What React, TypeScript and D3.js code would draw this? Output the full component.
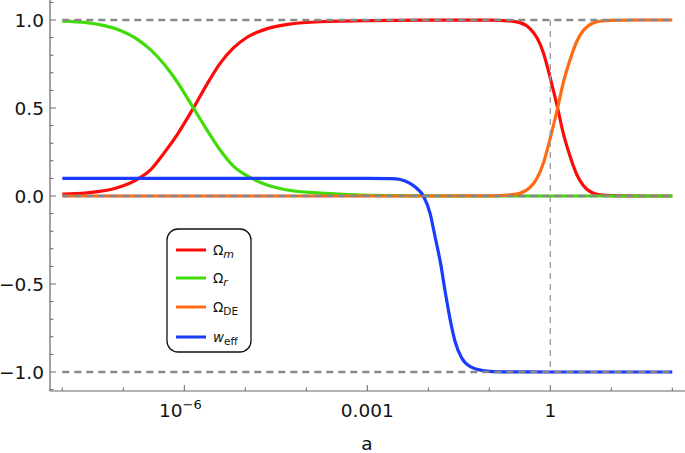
import React from "react";
import * as d3 from "d3";

// log10(a) sample positions and values
const uM = [-8.0, -7.6, -7.1, -6.77, -6.55, -6.33, -6.11, -5.85, -5.62, -5.41, -5.19, -4.97, -4.64, -4.31, -3.77, -3.0, -2.0, -1.0, -0.7, -0.5, -0.33, -0.22, -0.11, 0.0, 0.12, 0.21, 0.32, 0.43, 0.54, 0.68, 0.81, 1.0, 1.5, 2.0];
const omegaM = [0.011, 0.018, 0.047, 0.095, 0.15, 0.245, 0.352, 0.5, 0.64, 0.755, 0.843, 0.902, 0.951, 0.975, 0.99, 0.997, 0.999, 0.999, 0.995, 0.985, 0.95, 0.9, 0.81, 0.67, 0.5, 0.36, 0.23, 0.125, 0.06, 0.02, 0.007, 0.002, 0.0, 0.0];

const uR = [-8.0, -7.6, -7.1, -6.77, -6.55, -6.33, -6.11, -5.85, -5.62, -5.41, -5.19, -4.89, -4.64, -4.31, -3.77, -3.0, -2.0, -1.0, 0.0, 1.0, 2.0];
const omegaR = [0.994, 0.985, 0.947, 0.89, 0.83, 0.748, 0.645, 0.5, 0.37, 0.26, 0.168, 0.1, 0.062, 0.034, 0.016, 0.004, 0.001, 0.0, 0.0, 0.0, 0.0];

const uDE = [-8.0, -4.0, -2.0, -1.0, -0.7, -0.5, -0.33, -0.22, -0.11, 0.0, 0.12, 0.21, 0.32, 0.43, 0.54, 0.68, 0.81, 1.0, 1.5, 2.0];
const omegaDE = [0.0, 0.0, 0.0, 0.001, 0.005, 0.015, 0.05, 0.1, 0.19, 0.33, 0.5, 0.64, 0.77, 0.875, 0.94, 0.98, 0.993, 0.998, 1.0, 1.0];

const uW = [-8.0, -5.0, -3.0, -2.6, -2.46, -2.3, -2.19, -2.08, -1.97, -1.89, -1.8, -1.72, -1.64, -1.56, -1.45, -1.31, -1.1, -0.8, 0.0, 1.0, 2.0];
const wEff = [0.1, 0.1, 0.1, 0.099, 0.094, 0.072, 0.044, 0.0, -0.1, -0.23, -0.38, -0.55, -0.705, -0.828, -0.922, -0.97, -0.992, -0.999, -1.0, -1.0, -1.0];

const yMajorTicks = [-1.0, -0.5, 0.0, 0.5, 1.0];
const yMinorTicks = [-1.1, -0.9, -0.8, -0.7, -0.6, -0.4, -0.3, -0.2, -0.1, 0.1, 0.2, 0.3, 0.4, 0.6, 0.7, 0.8, 0.9, 1.1];
const xMajorExp = [-6, -3, 0];
const xMajorLabels = ["10^-6", "0.001", "1"];
const xMinorExp = [-8, -7, -5, -4, -2, -1, 1, 2];
const refLinesY = [1, 0, -1];

const seriesNames = ["m", "r", "DE", "eff"];
const colors = ["#ff0a0a", "#3fdc0a", "#ff6a14", "#1a3cff"];

export default function App() {
  const W = 685, H = 453;
  const x = d3.scaleLog().domain([1e-6, 1]).range([184.3, 550.3]);
  const y = d3.scaleLinear().domain([-1, 1]).range([372, 20]);
  const axX0 = 50, axX1 = 685;
  const axYTop = y(1.1136), axYBot = y(-1.108);
  const font = "DejaVu Sans, sans-serif";

  const mk = (us: number[], vs: number[]) =>
    d3.line<number>()
      .x((_, i) => x(Math.pow(10, us[i])))
      .y((v) => y(v))
      .curve(d3.curveMonotoneX)(vs) as string;

  const paths = [mk(uM, omegaM), mk(uR, omegaR), mk(uDE, omegaDE), mk(uW, wEff)];
  const xStart = x(1e-8), xEnd = x(1e2);
  const fmtY = (v: number) => (v < 0 ? "\u2212" : "") + Math.abs(v).toFixed(1);

  const legendX = 167, legendY = 229;
  const rowY = [250, 278, 307, 337];

  return (
    <svg width={W} height={H} style={{ position: "absolute", left: 0, top: 0, background: "#fff" }} fontFamily={font}>
      {paths.map((p, i) => (
        <path key={i} d={p} fill="none" stroke={colors[i]} strokeWidth={3.2} strokeLinejoin="round" />
      ))}
      {refLinesY.map((v) => (
        <line key={v} x1={xStart} x2={xEnd} y1={y(v)} y2={y(v)} stroke="#888" strokeWidth={2.4} strokeDasharray="7,5" />
      ))}
      <line x1={x(1)} x2={x(1)} y1={y(1)} y2={y(-1)} stroke="#999" strokeWidth={1.3} strokeDasharray="6,5" />
      <line x1={axX0} x2={axX0} y1={axYTop} y2={axYBot} stroke="#666" strokeWidth={1.2} />
      <line x1={axX0} x2={axX1} y1={axYBot} y2={axYBot} stroke="#666" strokeWidth={1.2} />
      {yMajorTicks.map((v) => (
        <g key={v}>
          <line x1={axX0} x2={axX0 + 6} y1={y(v)} y2={y(v)} stroke="#666" strokeWidth={1} />
          <text x={44} y={y(v) + 6.7} textAnchor="end" fontSize={18.5} fill="#111">{fmtY(v)}</text>
        </g>
      ))}
      {yMinorTicks.map((v) => (
        <line key={v} x1={axX0} x2={axX0 + 3.5} y1={y(v)} y2={y(v)} stroke="#666" strokeWidth={1} />
      ))}
      {xMajorExp.map((e, i) => {
        const px = x(Math.pow(10, e));
        const lab = xMajorLabels[i];
        return (
          <g key={e}>
            <line x1={px} x2={px} y1={axYBot} y2={axYBot - 6} stroke="#666" strokeWidth={1} />
            {lab.startsWith("10^") ? (
              <text x={px - 4} y={417} textAnchor="middle" fontSize={18.5} fill="#111">
                10<tspan dy={-8} fontSize={13}>{"\u2212" + lab.slice(4)}</tspan>
              </text>
            ) : (
              <text x={px} y={417} textAnchor="middle" fontSize={18.5} fill="#111">{lab}</text>
            )}
          </g>
        );
      })}
      {xMinorExp.map((e) => {
        const px = x(Math.pow(10, e));
        return <line key={e} x1={px} x2={px} y1={axYBot} y2={axYBot - 3.5} stroke="#666" strokeWidth={1} />;
      })}
      <text x={367} y={450} textAnchor="middle" fontSize={18.5} fill="#111">a</text>
      <rect x={legendX} y={legendY} width={84} height={123} rx={11} ry={11} fill="#fff" stroke="#111" strokeWidth={1.3} />
      {seriesNames.map((s, i) => (
        <g key={s}>
          <line x1={176} x2={206} y1={rowY[i]} y2={rowY[i]} stroke={colors[i]} strokeWidth={3} />
          <text x={213} y={rowY[i] + 4.5} fontSize={13.5} fill="#111">
            {s === "eff" ? (
              <tspan fontStyle="italic">w</tspan>
            ) : (
              <tspan>{"\u03A9"}</tspan>
            )}
            <tspan dy={3.5} fontSize={s === "m" || s === "r" ? 11 : 10.5} fontStyle={s === "m" || s === "r" ? "italic" : "normal"}>{s}</tspan>
          </text>
        </g>
      ))}
    </svg>
  );
}
